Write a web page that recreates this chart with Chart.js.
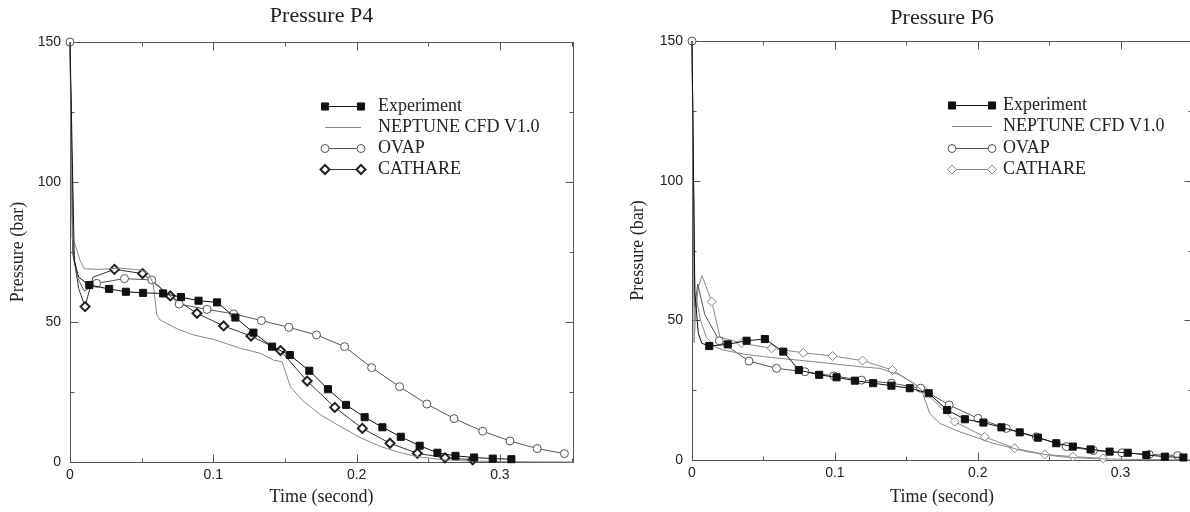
<!DOCTYPE html>
<html>
<head>
<meta charset="utf-8">
<script src="https://cdn.jsdelivr.net/npm/chart.js@4.4.1/dist/chart.umd.min.js"></script>
<style>
  html, body { margin: 0; padding: 0; background: #fff; width: 1190px; height: 512px; overflow: hidden; }
  canvas { position: absolute; top: 0; }
  #c4 { left: 0; }
  #c6 { left: 622px; }
</style>
</head>
<body>
<canvas id="c4" width="590" height="512"></canvas>
<canvas id="c6" width="590" height="512"></canvas>
<script>
// ── Axis ticks ───────────────────────────────────────────────────────────────
const X_TICKS = [0, 0.1, 0.2, 0.3];
const X_TICK_LABELS = ['0', '0.1', '0.2', '0.3'];
const X_MINOR = [0.05, 0.15, 0.25, 0.35];
const Y_TICKS = [0, 50, 100, 150];
const Y_MINOR = [25, 75, 125];
const SERIES_NAMES = ['Experiment', 'NEPTUNE CFD V1.0', 'OVAP', 'CATHARE'];

// ── Pressure P4 (time s, pressure bar, marker flag) ──────────────────────────
const P4_EXP_T = [0, 0.003, 0.006, 0.0135, 0.0273, 0.039, 0.051, 0.065, 0.0774, 0.0897, 0.1026, 0.1154, 0.128, 0.141, 0.1534, 0.167, 0.18, 0.1926, 0.2056, 0.218, 0.2308, 0.244, 0.2564, 0.269, 0.282, 0.295, 0.308];
const P4_EXP_P = [150, 72, 66, 63.2, 61.8, 60.8, 60.4, 60.2, 58.9, 57.6, 57.0, 51.6, 46.2, 41.2, 38.2, 32.6, 26.0, 20.4, 16.0, 12.4, 9.0, 5.8, 3.3, 2.2, 1.6, 1.2, 1.0];
const P4_EXP_M = [0, 0, 0, 1, 1, 1, 1, 1, 1, 1, 1, 1, 1, 1, 1, 1, 1, 1, 1, 1, 1, 1, 1, 1, 1, 1, 1];

const P4_NEP_T = [0, 0.0015, 0.004, 0.007, 0.01, 0.02, 0.035, 0.049, 0.0548, 0.058, 0.0606, 0.063, 0.075, 0.086, 0.1, 0.119, 0.133, 0.142, 0.148, 0.1538, 0.162, 0.175, 0.189, 0.203, 0.2168, 0.23, 0.2424, 0.26, 0.28, 0.31, 0.351];
const P4_NEP_P = [150, 80, 77, 72, 69, 68.8, 69.2, 68.6, 67.4, 63.8, 52.5, 50.7, 47.5, 45.4, 43.8, 40.6, 38.8, 36.4, 35.8, 26.9, 22.1, 16.8, 12.6, 8.6, 5.5, 3.4, 1.9, 0.8, 0.3, 0.1, 0];

const P4_OVAP_T = [0, 0.002, 0.005, 0.01, 0.0186, 0.038, 0.0571, 0.0762, 0.0956, 0.1142, 0.1336, 0.1527, 0.172, 0.1916, 0.2105, 0.230, 0.249, 0.268, 0.288, 0.307, 0.326, 0.345];
const P4_OVAP_P = [150, 74, 66, 61, 63.8, 65.5, 65.0, 56.4, 54.5, 52.9, 50.5, 48.1, 45.4, 41.2, 33.7, 26.9, 20.7, 15.5, 11.0, 7.5, 4.8, 3.0];
const P4_OVAP_M = [1, 0, 0, 0, 1, 1, 1, 1, 1, 1, 1, 1, 1, 1, 1, 1, 1, 1, 1, 1, 1, 1];

const P4_CAT_T = [0, 0.002, 0.006, 0.0105, 0.016, 0.031, 0.0506, 0.070, 0.0886, 0.1072, 0.1263, 0.1469, 0.1655, 0.1848, 0.204, 0.2233, 0.2424, 0.2617, 0.281];
const P4_CAT_P = [150, 76, 62, 55.5, 66, 68.8, 67.3, 59.3, 53.1, 48.6, 45.0, 39.8, 28.9, 19.5, 12.0, 6.7, 3.1, 1.5, 0.8];
const P4_CAT_M = [0, 0, 0, 1, 0, 1, 1, 1, 1, 1, 1, 1, 1, 1, 1, 1, 1, 1, 1];

// ── Pressure P6 ──────────────────────────────────────────────────────────────
const P6_EXP_T = [0, 0.002, 0.0044, 0.0068, 0.0121, 0.025, 0.0382, 0.051, 0.0639, 0.0748, 0.089, 0.1012, 0.114, 0.1268, 0.1396, 0.1524, 0.1657, 0.1786, 0.191, 0.204, 0.2166, 0.2294, 0.2422, 0.255, 0.2666, 0.279, 0.2923, 0.305, 0.318, 0.331, 0.344];
const P6_EXP_P = [150, 60, 45.4, 41.8, 40.8, 41.4, 42.7, 43.3, 38.8, 32.2, 30.5, 29.6, 28.4, 27.5, 26.6, 25.7, 23.9, 17.9, 14.6, 13.4, 11.7, 9.9, 8.0, 6.0, 4.8, 3.8, 3.0, 2.6, 1.8, 1.2, 0.9];
const P6_EXP_M = [0, 0, 0, 0, 1, 1, 1, 1, 1, 1, 1, 1, 1, 1, 1, 1, 1, 1, 1, 1, 1, 1, 1, 1, 1, 1, 1, 1, 1, 1, 1];

const P6_NEP_T = [0, 0.0015, 0.003, 0.006, 0.01, 0.016, 0.0219, 0.035, 0.05, 0.085, 0.1175, 0.1315, 0.145, 0.155, 0.1606, 0.1664, 0.1734, 0.1874, 0.2107, 0.234, 0.2573, 0.28, 0.31, 0.35];
const P6_NEP_P = [150, 42, 58, 50, 44, 40.5, 39.4, 38, 37.0, 35.2, 33.4, 32.8, 30.5, 27.5, 25.1, 16.7, 13.1, 10.1, 6.0, 3.0, 1.2, 0.5, 0.2, 0];

const P6_OVAP_T = [0, 0.002, 0.004, 0.009, 0.0191, 0.0399, 0.0592, 0.079, 0.0993, 0.1187, 0.1396, 0.160, 0.180, 0.2002, 0.220, 0.241, 0.262, 0.281, 0.301, 0.320, 0.340];
const P6_OVAP_P = [150, 55, 63, 52, 42.7, 35.4, 32.8, 31.6, 30.1, 28.6, 27.5, 25.7, 19.7, 14.9, 11.3, 8.3, 4.8, 3.4, 2.6, 2.0, 1.6];
const P6_OVAP_M = [1, 0, 0, 0, 1, 1, 1, 1, 1, 1, 1, 1, 1, 1, 1, 1, 1, 1, 1, 1, 1];

const P6_CAT_T = [0, 0.002, 0.0045, 0.007, 0.0138, 0.0196, 0.0347, 0.0557, 0.0779, 0.0984, 0.1194, 0.1403, 0.1613, 0.1839, 0.2049, 0.2259, 0.2469, 0.2667, 0.2877];
const P6_CAT_P = [150, 50, 62, 66, 56.7, 44, 41.8, 40.0, 38.4, 37.2, 35.6, 32.2, 25.5, 13.7, 8.3, 4.2, 2.0, 1.2, 0.6];
const P6_CAT_M = [0, 0, 0, 0, 1, 0, 1, 1, 1, 1, 1, 1, 1, 1, 1, 1, 1, 1, 1];

const SERIF = "'Liberation Serif', 'Times New Roman', serif";
const SANS = "'Liberation Sans', Arial, sans-serif";
const INK = '#222';

// Marker looks (style only, no data)
const LOOK_EXP  = { line: '#111', style: 'rect', r: 5, fill: '#111', stroke: '#111', bw: 1 };
const LOOK_NEP  = { line: '#888', style: null };
const LOOK_OVAP = { line: '#555', style: 'circle', r: 4, fill: '#fff', stroke: '#555', bw: 1 };
const LOOK_CAT4 = { line: '#333', style: 'rectRot', r: 4.5, fill: '#fff', stroke: '#222', bw: 2 };
const LOOK_CAT6 = { line: '#888', style: 'rectRot', r: 4.5, fill: '#fff', stroke: '#888', bw: 1 };

const pts = (t, p) => t.map((v, i) => ({ x: v, y: p[i] }));

function series(label, t, p, marks, look) {
  return {
    label,
    data: pts(t, p),
    borderColor: look.line,
    borderWidth: 1,
    tension: 0,
    clip: false,
    pointStyle: look.style || 'circle',
    pointRadius: marks ? (ctx => (marks[ctx.dataIndex] ? look.r : 0)) : 0,
    pointHoverRadius: 0,
    pointBackgroundColor: look.fill,
    pointBorderColor: look.stroke,
    pointBorderWidth: look.bw,
    look,
  };
}

// Boxed frame with inward tick marks on all four sides
const frameTicks = {
  id: 'frameTicks',
  beforeDatasetsDraw(chart) {
    const { ctx, chartArea: a, scales: { x, y } } = chart;
    const L = Math.round(a.left) + 0.5, R = Math.round(a.right) + 0.5;
    const T = Math.round(a.top) + 0.5, B = Math.round(a.bottom) + 0.5;
    ctx.save();
    ctx.strokeStyle = '#555';
    ctx.lineWidth = 1;
    ctx.strokeRect(L, T, R - L, B - T);
    ctx.beginPath();
    const xMark = (v, len) => {
      const px = Math.round(x.getPixelForValue(v)) + 0.5;
      if (px > R) return;
      ctx.moveTo(px, B); ctx.lineTo(px, B - len);
      ctx.moveTo(px, T); ctx.lineTo(px, T + len);
    };
    const yMark = (v, len) => {
      const py = Math.round(y.getPixelForValue(v)) + 0.5;
      ctx.moveTo(L, py); ctx.lineTo(L + len, py);
      ctx.moveTo(R, py); ctx.lineTo(R - len, py);
    };
    X_TICKS.forEach(v => xMark(v, 8));
    X_MINOR.forEach(v => xMark(v, 4));
    Y_TICKS.forEach(v => yMark(v, 8));
    Y_MINOR.forEach(v => yMark(v, 4));
    ctx.stroke();
    ctx.restore();
  },
};

function drawMarker(ctx, look, x, y) {
  ctx.fillStyle = look.fill;
  ctx.strokeStyle = look.stroke;
  ctx.lineWidth = look.bw;
  ctx.beginPath();
  if (look.style === 'rect') {
    const s = look.r * Math.SQRT1_2;
    ctx.rect(x - s, y - s, 2 * s, 2 * s);
  } else if (look.style === 'circle') {
    ctx.arc(x, y, look.r, 0, Math.PI * 2);
  } else if (look.style === 'rectRot') {
    ctx.moveTo(x, y - look.r); ctx.lineTo(x + look.r, y);
    ctx.lineTo(x, y + look.r); ctx.lineTo(x - look.r, y);
    ctx.closePath();
  }
  ctx.fill();
  ctx.stroke();
}

// Legend drawn inside the plot area, sample line with a marker at each end
const insetLegend = {
  id: 'insetLegend',
  afterDatasetsDraw(chart, args, o) {
    const { ctx, chartArea: a } = chart;
    ctx.save();
    ctx.font = `18px ${SERIF}`;
    ctx.textBaseline = 'middle';
    chart.data.datasets.forEach((ds, i) => {
      const y = Math.round(a.top + o.top + i * o.row) + 0.5;
      const x0 = a.left + o.left, x1 = x0 + o.len;
      ctx.strokeStyle = ds.look.line;
      ctx.lineWidth = 1;
      ctx.beginPath();
      ctx.moveTo(x0, y); ctx.lineTo(x1, y);
      ctx.stroke();
      if (ds.look.style) {
        drawMarker(ctx, ds.look, x0, y);
        drawMarker(ctx, ds.look, x1, y);
      }
      ctx.fillStyle = INK;
      ctx.fillText(ds.label, a.left + o.text, y);
    });
    ctx.restore();
  },
};

function buildChart(canvas, cfg) {
  return new Chart(canvas, {
    type: 'line',
    data: { datasets: cfg.datasets },
    options: {
      animation: false,
      responsive: false,
      devicePixelRatio: 1,
      events: [],
      layout: { padding: { left: 0, right: cfg.padRight, top: 0, bottom: 0 } },
      scales: {
        x: {
          type: 'linear',
          min: 0,
          max: cfg.xMax,
          afterBuildTicks: s => { s.ticks = X_TICKS.map(v => ({ value: v })); },
          afterFit: s => { s.height = cfg.xAxisHeight; },
          ticks: {
            color: INK,
            font: { family: SANS, size: 14 },
            padding: 5,
            maxRotation: 0,
            callback: (v, i) => X_TICK_LABELS[i],
          },
          grid: { display: false, drawTicks: false },
          border: { display: false },
          title: {
            display: true,
            text: 'Time (second)',
            color: INK,
            font: { family: SERIF, size: 18 },
            padding: { top: 0, bottom: 4 },
          },
        },
        y: {
          min: 0,
          max: 150,
          afterBuildTicks: s => { s.ticks = Y_TICKS.map(v => ({ value: v })); },
          afterFit: s => { s.width = 70; },
          ticks: {
            color: INK,
            font: { family: SANS, size: 14 },
            padding: 9,
          },
          grid: { display: false, drawTicks: false },
          border: { display: false },
          title: {
            display: true,
            text: 'Pressure (bar)',
            color: INK,
            font: { family: SERIF, size: 18 },
            padding: { top: cfg.yTitlePad, bottom: 0 },
          },
        },
      },
      plugins: {
        legend: { display: false },
        tooltip: { enabled: false },
        title: {
          display: true,
          fullSize: false,
          text: cfg.title,
          color: INK,
          font: { family: SERIF, size: 22, weight: 'normal' },
          padding: cfg.titlePad,
        },
        insetLegend: cfg.legend,
      },
    },
    plugins: [frameTicks, insetLegend],
  });
}

buildChart(document.getElementById('c4'), {
  title: 'Pressure P4',
  xMax: 0.351,
  padRight: 17,
  xAxisHeight: 50,
  yTitlePad: 7,
  titlePad: { top: 3, bottom: 12.6 },
  legend: { left: 255, len: 36, text: 308, top: 64, row: 21 },
  datasets: [
    series(SERIES_NAMES[0], P4_EXP_T, P4_EXP_P, P4_EXP_M, LOOK_EXP),
    series(SERIES_NAMES[1], P4_NEP_T, P4_NEP_P, null, LOOK_NEP),
    series(SERIES_NAMES[2], P4_OVAP_T, P4_OVAP_P, P4_OVAP_M, LOOK_OVAP),
    series(SERIES_NAMES[3], P4_CAT_T, P4_CAT_P, P4_CAT_M, LOOK_CAT4),
  ],
});

buildChart(document.getElementById('c6'), {
  title: 'Pressure P6',
  xMax: 0.35,
  padRight: 20,
  xAxisHeight: 52,
  yTitlePad: 5,
  titlePad: { top: 5, bottom: 9.6 },
  legend: { left: 260, len: 40, text: 311, top: 64, row: 21.3 },
  datasets: [
    series(SERIES_NAMES[0], P6_EXP_T, P6_EXP_P, P6_EXP_M, LOOK_EXP),
    series(SERIES_NAMES[1], P6_NEP_T, P6_NEP_P, null, LOOK_NEP),
    series(SERIES_NAMES[2], P6_OVAP_T, P6_OVAP_P, P6_OVAP_M, LOOK_OVAP),
    series(SERIES_NAMES[3], P6_CAT_T, P6_CAT_P, P6_CAT_M, LOOK_CAT6),
  ],
});
</script>
</body>
</html>
